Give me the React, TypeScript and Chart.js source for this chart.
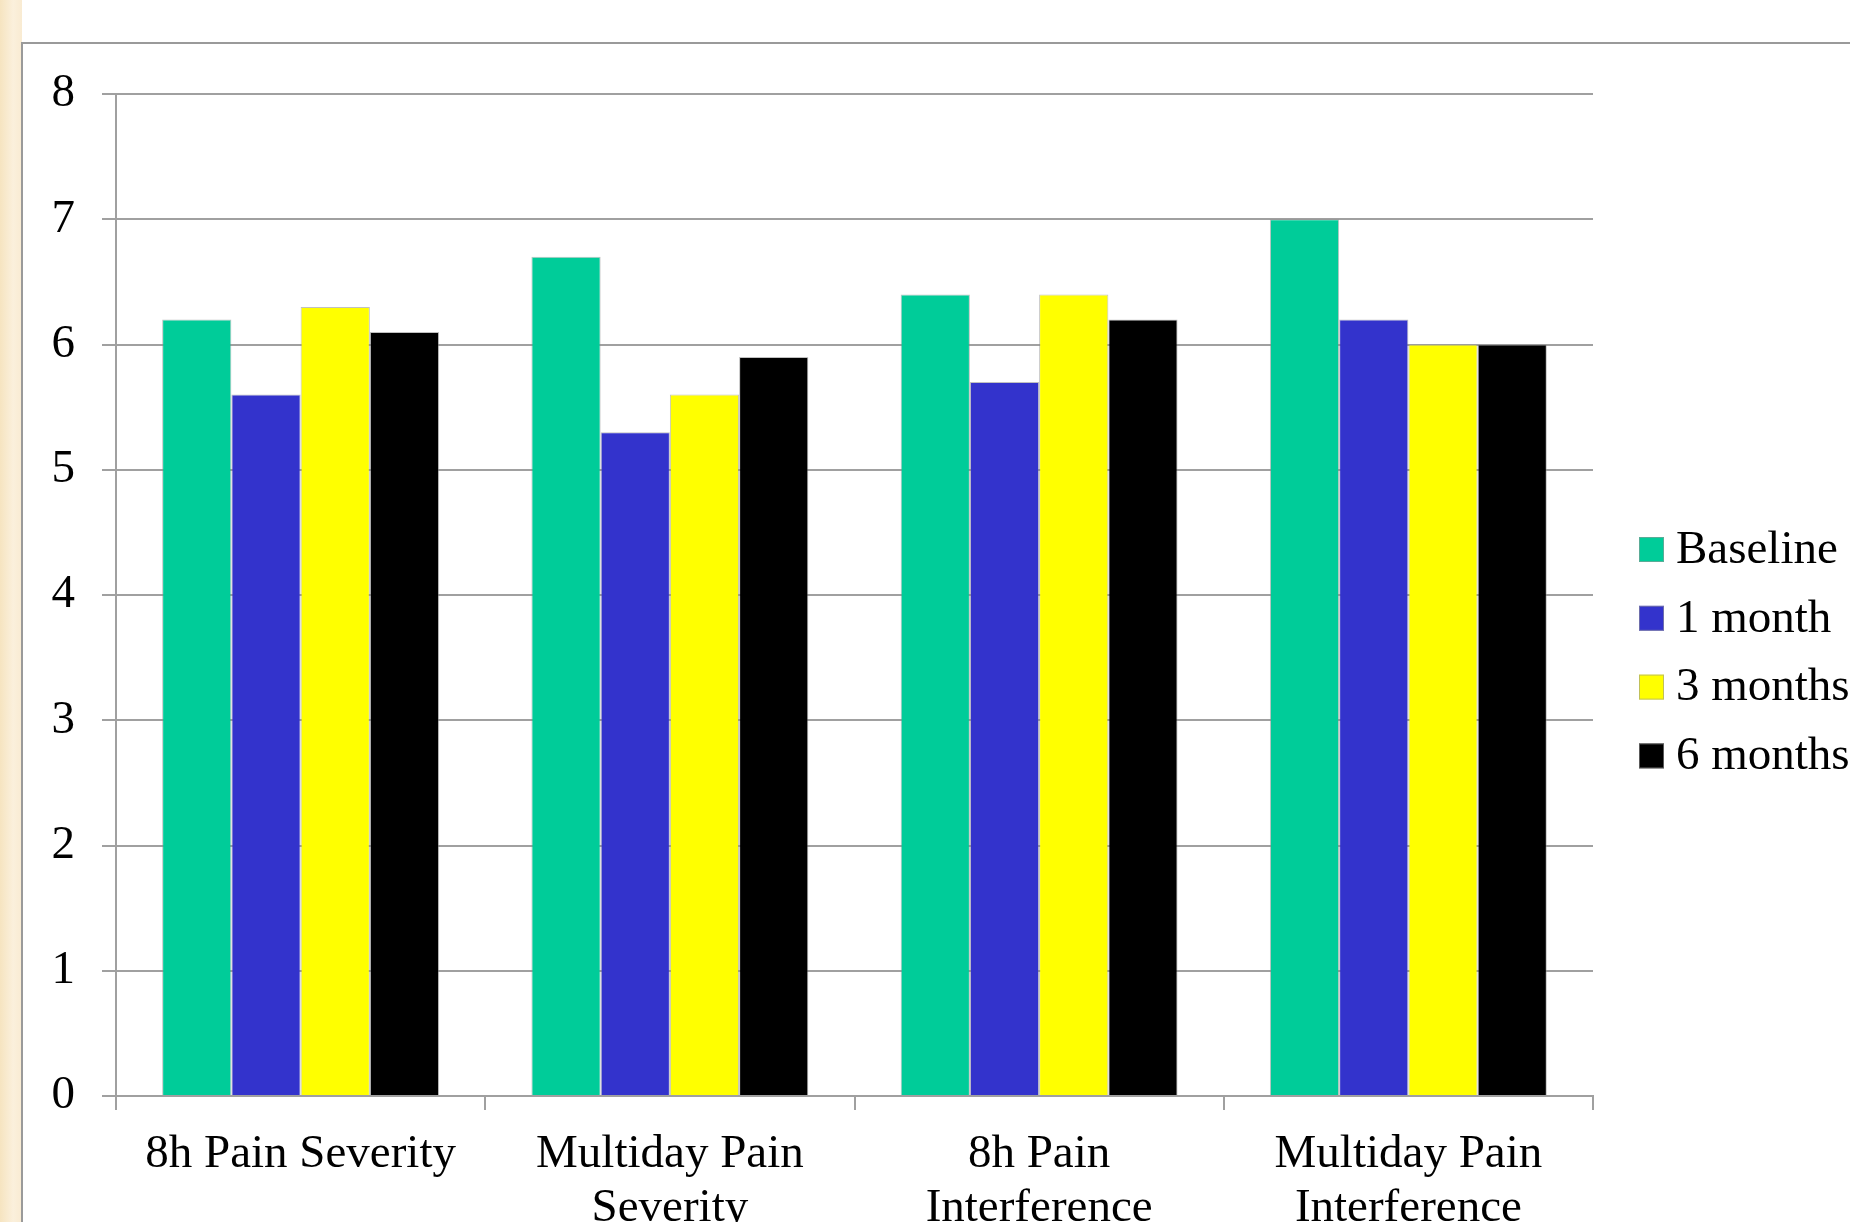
import React, { useEffect, useRef } from "react";
import { Chart, registerables } from "chart.js";

Chart.register(...registerables);

const categories: (string | string[])[] = [
  "8h Pain Severity",
  ["Multiday Pain", "Severity"],
  ["8h Pain", "Interference"],
  ["Multiday Pain", "Interference"],
];

const seriesNames = ["Baseline", "1 month", "3 months", "6 months"];
const baseline = [6.2, 6.7, 6.4, 7.0];
const oneMonth = [5.6, 5.3, 5.7, 6.2];
const threeMonths = [6.3, 5.6, 6.4, 6.0];
const sixMonths = [6.1, 5.9, 6.2, 6.0];
const seriesColors = ["#00CC99", "#3333CC", "#FFFF00", "#000000"];

const yMin = 0;
const yMax = 8;
const yStep = 1;

const FONT = "'Liberation Serif', 'Times New Roman', serif";
const W = 1850;
const H = 1300;

const sideLegend = {
  id: "sideLegend",
  afterDraw(chart: any) {
    const { ctx } = chart;
    const x0 = 1639;
    const top = 549.5;
    const step = 68.8;
    const box = 25;
    ctx.save();
    ctx.font = `47px ${FONT}`;
    ctx.textBaseline = "middle";
    ctx.textAlign = "left";
    chart.data.datasets.forEach((ds: any, i: number) => {
      const cy = top + i * step;
      ctx.fillStyle = ds.backgroundColor;
      ctx.fillRect(x0, cy - box / 2, box, box);
      ctx.strokeStyle = "rgba(150,150,150,0.6)";
      ctx.lineWidth = 1;
      ctx.strokeRect(x0 + 0.5, cy - box / 2 + 0.5, box - 1, box - 1);
      ctx.fillStyle = "#000";
      ctx.fillText(ds.label, x0 + 37, cy + 1);
    });
    ctx.restore();
  },
};

export default function App() {
  const ref = useRef<HTMLCanvasElement>(null);

  useEffect(() => {
    if (!ref.current) return;
    const values = [baseline, oneMonth, threeMonths, sixMonths];
    const chart = new Chart(ref.current, {
      type: "bar",
      data: {
        labels: categories,
        datasets: values.map((v, i) => ({
          label: seriesNames[i],
          data: v,
          backgroundColor: seriesColors[i],
          borderColor: "rgba(140,140,140,0.55)",
          borderWidth: 1,
          categoryPercentage: 0.75,
          barPercentage: 1.0,
        })),
      },
      options: {
        responsive: false,
        animation: false,
        devicePixelRatio: 1,
        layout: { padding: { left: 0, top: 94, right: W - 1593, bottom: 0 } },
        plugins: {
          legend: { display: false },
          tooltip: { enabled: false },
        },
        scales: {
          x: {
            afterFit: (s: any) => {
              s.height = H - 1096;
            },
            grid: {
              display: true,
              drawOnChartArea: false,
              drawTicks: true,
              tickLength: 14,
              color: "#a0a0a0",
              lineWidth: 2,
            },
            border: { display: true, color: "#a0a0a0", width: 2 },
            ticks: {
              color: "#000",
              padding: 18,
              maxRotation: 0,
              autoSkip: false,
              font: { family: FONT, size: 47, lineHeight: 1.15 },
            },
          },
          y: {
            min: yMin,
            max: yMax,
            afterFit: (s: any) => {
              s.width = 116;
            },
            grid: {
              color: "#a0a0a0",
              lineWidth: 2,
              drawTicks: true,
              tickLength: 14,
            },
            border: { display: true, color: "#a0a0a0", width: 2 },
            ticks: {
              stepSize: yStep,
              color: "#000",
              padding: 27,
              font: { family: FONT, size: 47 },
            },
          },
        },
      },
      plugins: [sideLegend],
    });
    return () => chart.destroy();
  }, []);

  return (
    <div
      style={{
        position: "fixed",
        left: 0,
        top: 0,
        width: W,
        height: 1222,
        overflow: "hidden",
        background: "#ffffff",
      }}
    >
      <div
        style={{
          position: "absolute",
          left: 0,
          top: 0,
          width: 22,
          height: 1222,
          background: "linear-gradient(90deg, #f6e4c0 0%, #fbf0dc 60%, #f9ebd2 100%)",
        }}
      />
      <div
        style={{
          position: "absolute",
          left: 21,
          top: 42,
          width: 2000,
          height: 1400,
          borderLeft: "2px solid #9a9a9a",
          borderTop: "2px solid #9a9a9a",
          background: "#ffffff",
        }}
      />
      <canvas
        ref={ref}
        width={W}
        height={H}
        style={{ position: "absolute", left: 0, top: 0, width: W, height: H }}
      />
    </div>
  );
}
